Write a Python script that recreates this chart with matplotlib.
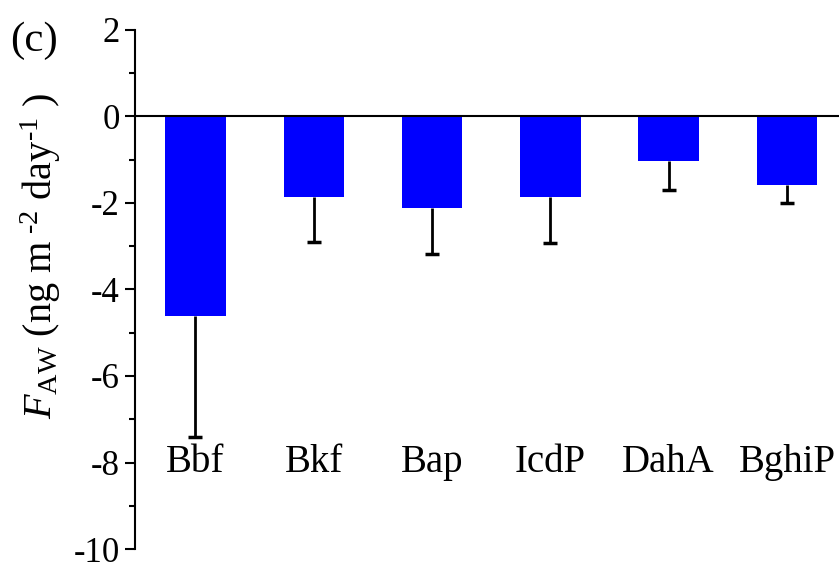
import numpy as np
import matplotlib
matplotlib.use("Agg")
import matplotlib.pyplot as plt
from matplotlib.ticker import MultipleLocator

plt.rcParams["font.family"] = "Liberation Serif"
plt.rcParams["mathtext.fontset"] = "custom"
plt.rcParams["mathtext.rm"] = "Liberation Serif"
plt.rcParams["mathtext.it"] = "Liberation Serif:italic"
plt.rcParams["axes.unicode_minus"] = False

compounds = ["Bbf", "Bkf", "Bap", "IcdP", "DahA", "BghiP"]
flux = [-4.62, -1.86, -2.11, -1.87, -1.03, -1.58]
flux_err = [2.80, 1.04, 1.06, 1.06, 0.67, 0.42]


def make_flux_chart():
    fig = plt.figure(figsize=(8.39, 5.62), dpi=100)
    ax = fig.add_axes([0.161, 0.023, 0.839, 0.924])

    x = np.arange(len(compounds))
    flux_arr = np.array(flux)
    err_arr = np.array(flux_err)
    ax.bar(x, flux_arr, width=0.51, color="#0000ff", zorder=2)
    # only the downward half of the error bar, cap at the bottom only
    ax.vlines(x, flux_arr - err_arr, flux_arr, color="black", lw=2, zorder=3)
    ax.plot(x, flux_arr - err_arr, ls="none", marker="_", markersize=10,
            mew=2.5, color="black", zorder=3)

    ax.axhline(0, color="black", lw=1.5, zorder=4)

    for xi, name in zip(x, compounds):
        ax.text(xi, -8, name, ha="center", va="center", fontsize=28)

    ax.set_xlim(-0.51, 5.44)
    ax.set_ylim(-10, 2)
    ax.yaxis.set_major_locator(MultipleLocator(2))
    ax.yaxis.set_minor_locator(MultipleLocator(1))
    ax.set_xticks([])

    for side in ["top", "right", "bottom"]:
        ax.spines[side].set_visible(False)
    ax.spines["left"].set_linewidth(1.5)
    ax.tick_params(axis="y", which="major", length=7, width=1.5, labelsize=25, pad=4)
    ax.tick_params(axis="y", which="minor", length=4, width=1.5)

    ax.set_ylabel(r"$F_{\mathrm{AW}}$ (ng m$^{\text{ -2}}$ day$^{\text{-1}}$ )",
                  fontsize=29)
    ax.yaxis.set_label_coords(-0.103, 0.565)
    fig.text(0.012, 0.928, "(c)", fontsize=31, ha="left", va="center")

    fig.savefig("out.png", dpi=100)


if __name__ == "__main__":
    make_flux_chart()
